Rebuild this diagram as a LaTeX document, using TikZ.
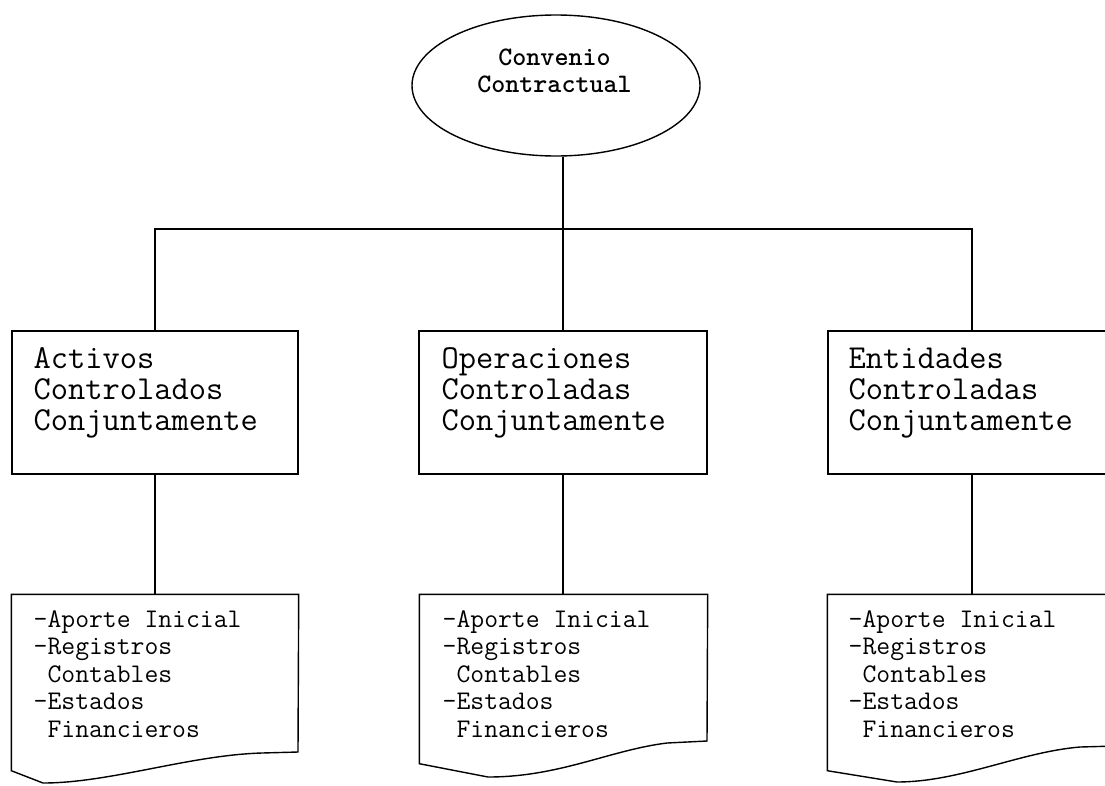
\documentclass[tikz,border=0pt]{standalone}
\usetikzlibrary{shapes.geometric}
\begin{document}
\begin{tikzpicture}[x=1pt,y=-1pt,line width=1.4pt,
  boxstyle/.style={draw,rectangle,minimum height=143pt,inner sep=0pt},
  docframe/.style={rectangle,inner sep=0pt},
  boxtext/.style={anchor=base west,inner sep=0pt,align=left,text width=270pt,
    font=\ttfamily\fontsize{33.5}{31}\selectfont},
  doctext/.style={anchor=base west,inner sep=0pt,align=left,text width=260pt,
    font=\ttfamily\fontsize{26.9}{27.5}\selectfont},
  elltext/.style={anchor=base,inner sep=0pt,align=center,text width=220pt,
    font=\ttfamily\bfseries\fontsize{26.7}{27}\selectfont}]
\useasboundingbox (0,0) rectangle (1105,785);
\clip (0,0) rectangle (1105,785);
% top ellipse
\node[draw,ellipse,minimum width=288pt,minimum height=141pt,inner sep=0pt] (ell) at (556,85.5) {};
\node[elltext] (et) at (554.5,65) {Convenio\\Contractual};
% middle boxes
\node[boxstyle,minimum width=286pt] (actbox) at (155,402.5) {};
\node[boxstyle,minimum width=288pt] (opbox) at (563,402.5) {};
\node[boxstyle,minimum width=288pt] (entbox) at (972,402.5) {};
\node[boxtext] (t1) at (33,368) {Activos\\Controlados\\Conjuntamente};
\node[boxtext] (t2) at (441,368) {Operaciones\\Controladas\\Conjuntamente};
\node[boxtext] (t3) at (848,368) {Entidades\\Controladas\\Conjuntamente};
% document frames
\node[docframe,minimum width=286pt,minimum height=175pt] (doc1) at (155,682.5) {};
\node[docframe,minimum width=287pt,minimum height=168pt] (doc2) at (563.5,679) {};
\node[docframe,minimum width=288pt,minimum height=175pt] (doc3) at (972,682.5) {};
\draw (doc1.north west) -- (doc1.south west) -- (43,783)
  .. controls (110,783) and (190,755) .. (262,753) -- (298,752) -- (doc1.north east) -- cycle;
\draw (doc2.north west) -- (doc2.south west) -- (488,777)
  .. controls (560,777) and (610,750) .. (667,743) -- (707,741) -- (doc2.north east) -- cycle;
\draw (doc3.north west) -- (doc3.south west) -- (897,782)
  .. controls (960,782) and (1020,752) .. (1080,747) -- (1116,746) -- (doc3.north east) -- cycle;
\node[doctext] (d1) at (33,627) {-Aporte\hphantom{x}Inicial\\-Registros\\\hphantom{-}Contables\\-Estados\\\hphantom{-}Financieros};
\node[doctext] (d2) at (442,627) {-Aporte\hphantom{x}Inicial\\-Registros\\\hphantom{-}Contables\\-Estados\\\hphantom{-}Financieros};
\node[doctext] (d3) at (848,627) {-Aporte\hphantom{x}Inicial\\-Registros\\\hphantom{-}Contables\\-Estados\\\hphantom{-}Financieros};
% connectors
\coordinate (bus) at (563,229);
\draw (ell.south -| opbox.north) -- (opbox.north);
\draw (actbox.north) -- (actbox.north |- bus) -- (entbox.north |- bus) -- (entbox.north);
\draw (actbox.south) -- (doc1.north);
\draw (opbox.south) -- (opbox.south |- doc2.north);
\draw (entbox.south) -- (doc3.north);
\end{tikzpicture}
\end{document}
